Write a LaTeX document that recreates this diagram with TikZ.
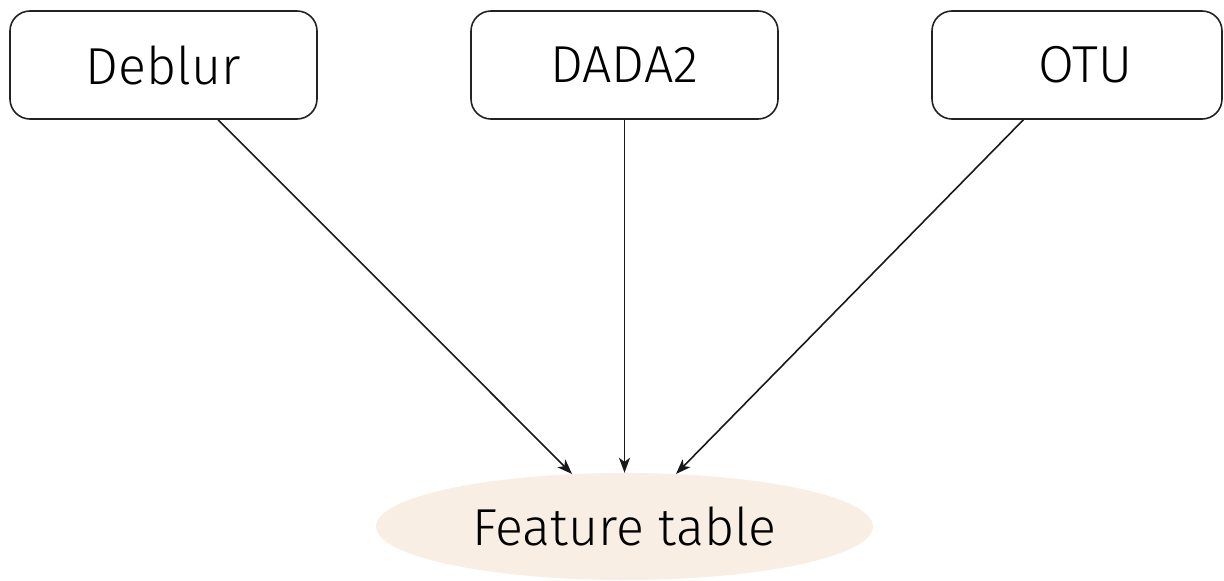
\documentclass[tikz,border=0pt]{standalone}
\usepackage{fontspec}
\setmainfont{Fira Sans Light}
\usetikzlibrary{shapes.geometric,arrows.meta}
\definecolor{boxline}{HTML}{222222}
\definecolor{tablefill}{HTML}{F8EEE3}
\tikzset{
  method/.style={draw=boxline, line width=1.6pt, rounded corners=20pt,
    minimum width=307pt, minimum height=108pt, inner sep=0pt, font=\fontsize{52}{62}\selectfont},
  result/.style={ellipse, fill=tablefill, minimum width=497pt, minimum height=107pt,
    inner sep=0pt, font=\fontsize{52}{62}\selectfont},
  flow/.style={draw=black!90, line width=1.6pt, -{Stealth[length=15pt,width=11pt,inset=4pt]}}
}
\begin{document}
\begin{tikzpicture}[x=1pt,y=-1pt]
  \useasboundingbox (0,0) rectangle (1224,581);
  \node[method] (deb) at (163.5,65) {Deblur};
  \node[method] (dada) at (624.5,65) {DADA2};
  \node[method, minimum width=290pt] (otu) at (1077,65) {\hspace*{16pt}OTU};
  \node[result] (ft) at (624.5,526.5) {Feature table};
  \draw[flow] (deb) -- (ft);
  \draw[flow] (dada) -- (ft);
  \draw[flow] (otu) -- (ft);
\end{tikzpicture}
\end{document}
